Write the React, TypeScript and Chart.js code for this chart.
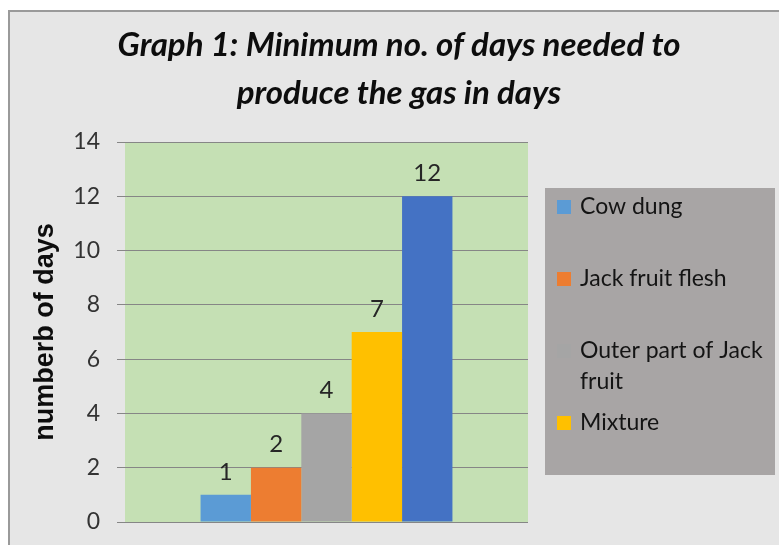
import React, { useEffect, useRef } from "react";
import { Chart, registerables } from "chart.js";

Chart.register(...registerables);

// ---- data ----
const categories = [""];
const seriesNames = ["Cow dung", "Jack fruit flesh", "Outer part of Jack fruit", "Mixture", "Series5"];
const seriesValues = [1, 2, 4, 7, 12];
const seriesColors = ["#5B9BD5", "#ED7D31", "#A5A5A5", "#FFC000", "#4472C4"];
const legendCount = 4; // only the first four series are visible in the legend
const yMin = 0;
const yMax = 14;
const yStep = 2;
const titleLines = ["Graph 1: Minimum no. of days needed to", "produce the gas in days"];
const yAxisTitle = "numberb of days";

const FONT = "Lato, 'Open Sans', sans-serif";

const backgroundPlugin = {
  id: "bgPlugin",
  beforeDraw(chart: any) {
    const { ctx, width, height, chartArea } = chart;
    ctx.save();
    ctx.fillStyle = "#ffffff";
    ctx.fillRect(0, 0, width, height);
    ctx.fillStyle = "#E6E6E6";
    ctx.fillRect(8, 10, width - 8, height - 10);
    ctx.strokeStyle = "#9A9A9A";
    ctx.lineWidth = 2;
    ctx.beginPath();
    ctx.moveTo(9, height);
    ctx.lineTo(9, 11);
    ctx.lineTo(width, 11);
    ctx.stroke();
    ctx.fillStyle = "#C5E0B4";
    ctx.fillRect(chartArea.left, chartArea.top, chartArea.right - chartArea.left, chartArea.bottom - chartArea.top);
    ctx.restore();
  },
};

const valueLabelPlugin = {
  id: "valueLabels",
  afterDatasetsDraw(chart: any) {
    const { ctx } = chart;
    ctx.save();
    ctx.font = `24px ${FONT}`;
    ctx.fillStyle = "#262626";
    ctx.textAlign = "center";
    ctx.textBaseline = "middle";
    chart.data.datasets.forEach((ds: any, i: number) => {
      const meta = chart.getDatasetMeta(i);
      meta.data.forEach((bar: any, j: number) => {
        ctx.fillText(String(ds.data[j]), bar.x, bar.y - 23);
      });
    });
    ctx.restore();
  },
};

const sideLegendPlugin = {
  id: "sideLegend",
  afterDraw(chart: any) {
    const { ctx } = chart;
    const boxX = chart.chartArea.right + 17;
    const boxY = 188;
    const boxW = 230;
    const boxH = 287;
    ctx.save();
    ctx.fillStyle = "#A8A5A5";
    ctx.fillRect(boxX, boxY, boxW, boxH);
    ctx.font = `23px ${FONT}`;
    ctx.textBaseline = "middle";
    ctx.textAlign = "left";
    const textX = boxX + 35;
    const maxW = boxX + boxW - 4 - textX;
    const step = 72;
    const lineH = 31;
    chart.data.datasets.slice(0, legendCount).forEach((ds: any, i: number) => {
      const y = boxY + 19 + step * i;
      ctx.fillStyle = ds.backgroundColor;
      ctx.fillRect(boxX + 12, y - 7, 14, 14);
      const words = String(ds.label).split(" ");
      const lines: string[] = [];
      let cur = "";
      words.forEach((w) => {
        const test = cur ? cur + " " + w : w;
        if (ctx.measureText(test).width > maxW && cur) {
          lines.push(cur);
          cur = w;
        } else cur = test;
      });
      if (cur) lines.push(cur);
      ctx.fillStyle = "#141414";
      lines.forEach((ln, k) => ctx.fillText(ln, textX, y + k * lineH));
    });
    ctx.restore();
  },
};

export default function App() {
  const canvasRef = useRef<HTMLCanvasElement | null>(null);

  useEffect(() => {
    if (!canvasRef.current) return;
    const chart = new Chart(canvasRef.current, {
      type: "bar",
      data: {
        labels: categories,
        datasets: seriesNames.map((name, i) => ({
          label: name,
          data: [seriesValues[i]],
          backgroundColor: seriesColors[i],
          borderWidth: 0,
          categoryPercentage: 0.625,
          barPercentage: 1,
          yAxisID: "y",
        })),
      },
      options: {
        responsive: false,
        animation: false,
        layout: { padding: { left: 19, right: 0, top: 0, bottom: 0 } },
        plugins: {
          legend: { display: false },
          tooltip: { enabled: false },
          title: {
            display: true,
            text: titleLines,
            color: "#0D0D0D",
            font: { family: FONT, size: 33, weight: "bold", style: "italic", lineHeight: 48 / 33 },
            padding: { top: 21, bottom: 25 },
          },
        },
        scales: {
          x: {
            display: true,
            ticks: { display: false },
            grid: { display: false },
            border: { display: false },
            afterFit: (s: any) => {
              s.height = 23;
            },
          },
          y: {
            min: yMin,
            max: yMax,
            ticks: {
              stepSize: yStep,
              color: "#333333",
              font: { family: FONT, size: 23 },
              padding: 17,
            },
            grid: { color: "#868686", lineWidth: 1, tickLength: 8, drawTicks: true },
            border: { display: false },
            title: {
              display: true,
              text: yAxisTitle,
              color: "#0D0D0D",
              font: { family: "'Liberation Sans', Arial, sans-serif", size: 27, weight: "bold", lineHeight: 1.2 },
              padding: { top: 10, bottom: 0 },
            },
            afterFit: (s: any) => {
              s.width = 106;
              s.paddingTop = 0;
              s.paddingBottom = 0;
            },
          },
          spacer: {
            type: "linear",
            position: "right",
            display: true,
            ticks: { display: false },
            grid: { display: false },
            border: { display: false },
            afterFit: (s: any) => {
              s.width = 251;
            },
          },
        },
      },
      plugins: [backgroundPlugin, valueLabelPlugin, sideLegendPlugin],
    } as any);
    return () => chart.destroy();
  }, []);

  return (
    <div style={{ position: "absolute", left: 0, top: 0, width: 779, height: 545 }}>
      <canvas ref={canvasRef} width={779} height={545} style={{ display: "block" }} />
    </div>
  );
}
